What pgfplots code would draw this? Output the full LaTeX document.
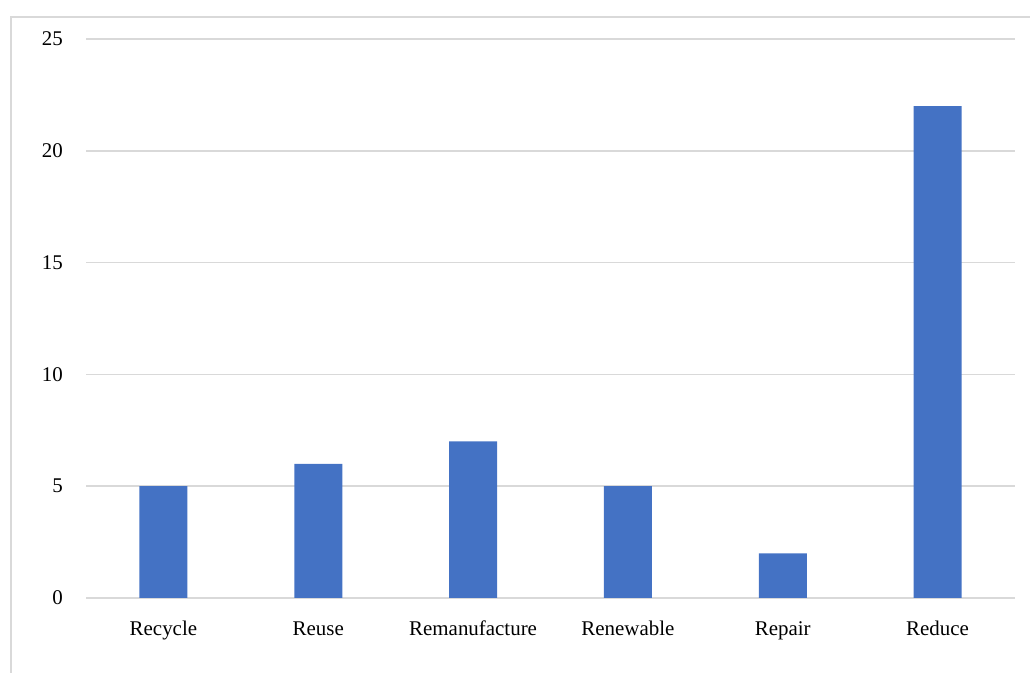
\documentclass[border=0pt]{standalone}
\usepackage{fontspec}
\setmainfont{Liberation Serif}
\usepackage{pgfplots}
\pgfplotsset{compat=1.18}
\definecolor{barblue}{RGB}{68,114,196}
\definecolor{gridgray}{RGB}{217,217,217}
\begin{document}
\fontsize{21}{24}\selectfont
\begin{tikzpicture}[x=1bp,y=1bp]
\path[use as bounding box] (0,0) rectangle (1030,673);
\draw[gridgray, line width=1.5bp] (11,0) -- (11,656) -- (1030,656);
\begin{axis}[
  at={(86bp,75bp)}, anchor=south west,
  scale only axis, width=929bp, height=559bp,
  ybar, bar width=48bp,
  ymin=0, ymax=25, ytick={0,5,...,25},
  xmin=-0.5, xmax=5.5,
  xtick=data,
  xticklabels={Recycle,Reuse,Remanufacture,Renewable,Repair,Reduce},
  axis line style={draw=none},
  ymajorgrids, grid style={gridgray, line width=1.5bp},
  major tick length=0pt,
  tick label style={font=\fontsize{21}{24}\selectfont},
  /pgf/number format/assume math mode=true,
  yticklabel style={xshift=-16bp},
  xticklabel style={anchor=base, yshift=-38bp},
]
\addplot[fill=barblue, draw=none] coordinates {(0,5) (1,6) (2,7) (3,5) (4,2) (5,22)};
\end{axis}
\end{tikzpicture}
\end{document}
